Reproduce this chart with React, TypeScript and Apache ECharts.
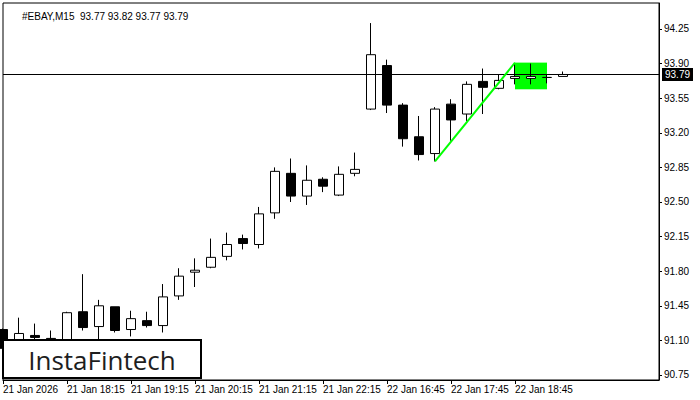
import React, { useEffect, useRef } from "react";
import * as echarts from "echarts";

// time slots (15 minute bars); the last six are empty space to the right
const times = [
  "21 Jan 17:15", "21 Jan 17:30", "21 Jan 17:45", "21 Jan 18:00", "21 Jan 18:15", "21 Jan 18:30",
  "21 Jan 18:45", "21 Jan 19:00", "21 Jan 19:15", "21 Jan 19:30", "21 Jan 19:45", "21 Jan 20:00",
  "21 Jan 20:15", "21 Jan 20:30", "21 Jan 20:45", "21 Jan 21:00", "21 Jan 21:15", "21 Jan 21:30",
  "21 Jan 21:45", "21 Jan 22:00", "21 Jan 22:15", "21 Jan 22:30", "21 Jan 22:45", "22 Jan 16:30",
  "22 Jan 16:45", "22 Jan 17:00", "22 Jan 17:15", "22 Jan 17:30", "22 Jan 17:45", "22 Jan 18:00",
  "22 Jan 18:15", "22 Jan 18:30", "22 Jan 18:45", "22 Jan 19:00", "22 Jan 19:15", "22 Jan 19:30",
  "22 Jan 19:45", "22 Jan 20:00", "22 Jan 20:15", "22 Jan 20:30", "22 Jan 20:45", "22 Jan 21:00",
];
const barCount = 36;
const firstLabel = "21 Jan 2026";

// OHLC
const opens = [
  91.21, 91.08, 91.15, 91.12, 91.08, 91.39, 91.24, 91.44, 91.21, 91.30, 91.25, 91.55,
  91.79, 91.84, 91.95, 92.13, 92.07, 92.39, 92.79, 92.56, 92.73, 92.57, 92.79, 93.44,
  93.88, 93.48, 93.16, 92.99, 93.49, 93.39, 93.72, 93.65, 93.75, 93.75, 93.76, 93.77,
];
const closes = [
  91.02, 91.17, 91.13, 91.08, 91.38, 91.23, 91.45, 91.20, 91.32, 91.25, 91.54, 91.75,
  91.81, 91.94, 92.07, 92.08, 92.38, 92.81, 92.56, 92.72, 92.66, 92.78, 92.83, 93.99,
  93.48, 93.14, 92.98, 93.44, 93.33, 93.69, 93.66, 93.73, 93.77, 93.77, 93.76, 93.79,
];
const lows = [
  90.98, 91.04, 91.06, 91.03, 91.02, 91.20, 91.09, 91.18, 91.14, 91.23, 91.18, 91.51,
  91.64, 91.83, 91.91, 92.02, 92.03, 92.33, 92.50, 92.47, 92.60, 92.56, 92.76, 93.43,
  93.40, 93.06, 92.92, 92.91, 93.12, 93.32, 93.39, 93.64, 93.69, 93.69, 93.70, 93.77,
];
const highs = [
  91.22, 91.33, 91.27, 91.20, 91.39, 91.77, 91.51, 91.44, 91.40, 91.39, 91.67, 91.83,
  91.93, 92.13, 92.19, 92.17, 92.45, 92.85, 92.94, 92.87, 92.75, 92.86, 93.00, 94.31,
  93.94, 93.50, 93.37, 93.46, 93.54, 93.72, 93.85, 93.79, 93.90, 93.90, 93.79, 93.82,
];

const yTicks = [90.75, 91.1, 91.45, 91.8, 92.15, 92.5, 92.85, 93.2, 93.55, 93.9, 94.25];
const yMin = 90.6994;
const yMax = 94.513;

// pattern: rising line and target zone
const patternLineIdx = [27, 32];
const patternLineVal = [92.91, 93.91];
const zoneIdx = [32, 34];
const zoneVal = [93.91, 93.64];

const lastPrice = 93.79;
const titleText = "#EBAY,M15  93.77 93.82 93.77 93.79";

const FONT = "'Liberation Sans', Arial, sans-serif";

export default function App() {
  const ref = useRef<HTMLDivElement>(null);
  useEffect(() => {
    if (!ref.current) return;
    const chart = echarts.init(ref.current, null, { renderer: "svg" });
    const candles = opens.map((o, i) => [o, closes[i], lows[i], highs[i]]);
    const showIdx = (i: number) => i % 4 === 0 && i < barCount;
    const option: any = {
      animation: false,
      backgroundColor: "#fff",
      title: {
        text: titleText,
        left: 17,
        top: 6,
        textStyle: { fontSize: 10, fontWeight: "normal", color: "#000", fontFamily: FONT },
      },
      grid: {
        left: 3,
        top: 3,
        width: 656,
        height: 377,
        show: true,
        borderColor: "#000",
        borderWidth: 1,
        backgroundColor: "transparent",
      },
      xAxis: {
        type: "category",
        data: times,
        boundaryGap: false,
        axisLine: { show: true, lineStyle: { color: "#000", width: 1 } },
        axisTick: { show: true, interval: (i: number) => showIdx(i), length: 4, lineStyle: { color: "#000" } },
        axisLabel: {
          interval: (i: number) => showIdx(i),
          align: "left",
          margin: 4,
          fontSize: 10,
          color: "#000",
          fontFamily: FONT,
          formatter: (v: string, i: number) => (i === 0 ? firstLabel : v),
        },
        splitLine: { show: false },
      },
      yAxis: {
        type: "value",
        position: "right",
        min: yMin,
        max: yMax,
        axisLine: { show: true, lineStyle: { color: "#000", width: 1 } },
        axisTick: { show: true, length: 3, customValues: yTicks, lineStyle: { color: "#000" } },
        axisLabel: {
          customValues: yTicks,
          formatter: (v: number) => v.toFixed(2),
          margin: 5,
          fontSize: 10,
          color: "#000",
          fontFamily: FONT,
        },
        splitLine: { show: false },
      },
      series: [
        {
          type: "line",
          data: [],
          z: 1,
          silent: true,
          markArea: {
            silent: true,
            itemStyle: { color: "#00ff00", opacity: 1 },
            data: [[
              { xAxis: times[zoneIdx[0]], yAxis: zoneVal[0] },
              { xAxis: times[zoneIdx[1]], yAxis: zoneVal[1] },
            ]],
          },
        },
        {
          type: "candlestick",
          data: candles,
          z: 3,
          barWidth: 9,
          silent: true,
          itemStyle: {
            color: "#fff",
            color0: "#000",
            borderColor: "#000",
            borderColor0: "#000",
            borderWidth: 1,
          },
          markLine: {
            silent: true,
            symbol: ["none", "none"],
            lineStyle: { color: "#000", width: 1, type: "solid" },
            label: {
              show: true,
              position: "end",
              formatter: lastPrice.toFixed(2),
              backgroundColor: "#000",
              color: "#fff",
              padding: [2, 3, 1, 3],
              fontSize: 10,
              fontFamily: FONT,
              distance: 3,
            },
            data: [{ yAxis: lastPrice }],
          },
        },
        {
          type: "line",
          z: 5,
          silent: true,
          symbol: "none",
          lineStyle: { color: "#00ff00", width: 2 },
          data: patternLineIdx.map((x, i) => [x, patternLineVal[i]]),
        },
      ],
      graphic: [
        {
          type: "rect",
          z: 100,
          shape: { x: 3, y: 340, width: 198, height: 38 },
          style: { fill: "#fff", stroke: "#000", lineWidth: 2 },
        },
        {
          type: "text",
          z: 101,
          x: 102,
          y: 360,
          style: {
            text: "InstaFintech",
            fontSize: 26,
            fontWeight: 400,
            fontFamily: "'Open Sans', Lato, sans-serif",
            fill: "#1e1e1e",
            align: "center",
            verticalAlign: "middle",
          },
        },
      ],
    };
    chart.setOption(option);
    return () => chart.dispose();
  }, []);
  return (
    <div
      ref={ref}
      style={{ position: "absolute", left: 0, top: 0, width: 700, height: 400, background: "#fff" }}
    />
  );
}
